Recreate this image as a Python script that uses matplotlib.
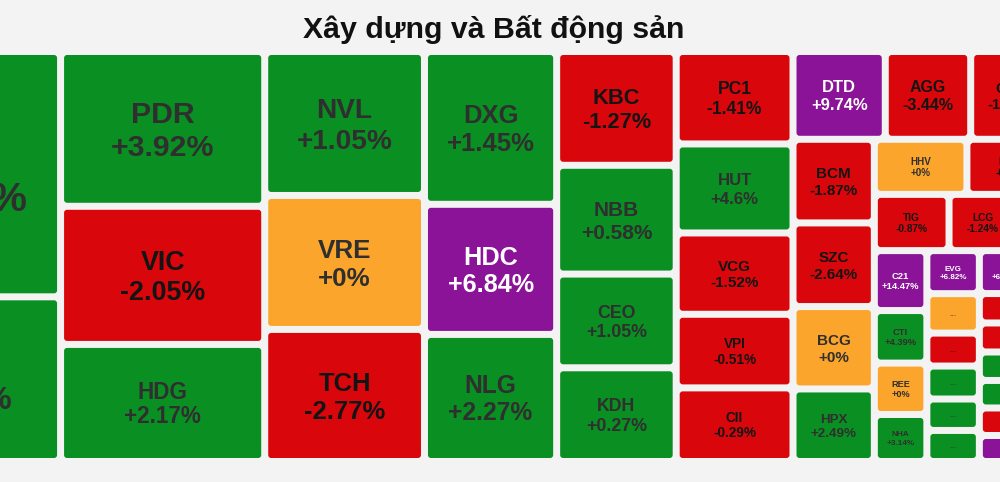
import matplotlib
matplotlib.use("Agg")
import matplotlib.pyplot as plt
from matplotlib.patches import FancyBboxPatch

plt.rcParams['font.family'] = ['Liberation Sans', 'DejaVu Sans']

title = 'Xây dựng và Bất động sản'

# stocks, % change and weight (tile area); tiles cut off at the picture edge are guesses
tickers = ['VHM', 'DIG', 'PDR', 'VIC', 'HDG', 'NVL', 'VRE', 'TCH', 'DXG', 'HDC', 'NLG',
           'KBC', 'NBB', 'CEO', 'KDH', 'PC1', 'HUT', 'VCG', 'VPI', 'CII',
           'DTD', 'AGG', 'CTD', 'BCM', 'SZC', 'BCG', 'HPX', 'HHV', 'HBC', 'TIG', 'LCG', 'FCN',
           'C21', 'CTI', 'REE', 'NHA', 'EVG', 'x1', 'x2', 'x3', 'x4', 'x5',
           'API', 'y2', 'y3', 'y4', 'y5', 'y6', 'y7', 'z1', 'z2', 'z3']
changes = [2.35, 1.93, 3.92, -2.05, 2.17, 1.05, 0.0, -2.77, 1.45, 6.84, 2.27,
           -1.27, 0.58, 1.05, 0.27, -1.41, 4.6, -1.52, -0.51, -0.29,
           9.74, -3.44, -1.35, -1.87, -2.64, 0.0, 2.49, 0.0, -0.9, -0.87, -1.24, -0.5,
           14.47, 4.39, 0.0, 3.14, 6.82, 0.0, -1.0, 1.0, 1.0, 1.0,
           6.95, -1.0, -1.0, 1.0, 1.0, -1.0, 7.0, 1.0, -1.0, 1.0]
weights = [508, 341, 316, 282, 239, 230, 214, 211, 202, 172, 168,
           136, 130, 112, 112, 108, 104, 95, 86, 86,
           81, 75, 70, 68, 68, 67, 59, 51, 46, 42, 38, 19,
           31.5, 27.6, 27, 24.7, 22.6, 20.7, 17.3, 17.3, 16.5, 16.3,
           22.8, 15.6, 15.4, 15.1, 14.6, 14.6, 13.8, 13, 13, 12]

# how the tiles are grouped: 'h' = side by side, 'v' = stacked
groups = ('h', [
    ('v', ['VHM', 'DIG']),
    ('v', ['PDR', 'VIC', 'HDG']),
    ('v', ['NVL', 'VRE', 'TCH']),
    ('v', ['DXG', 'HDC', 'NLG']),
    ('v', ['KBC', 'NBB', 'CEO', 'KDH']),
    ('v', ['PC1', 'HUT', 'VCG', 'VPI', 'CII']),
    ('v', [
        ('h', ['DTD', 'AGG', 'CTD']),
        ('h', [
            ('v', ['BCM', 'SZC', 'BCG', 'HPX']),
            ('v', [
                ('h', ['HHV', 'HBC']),
                ('h', ['TIG', 'LCG', 'FCN']),
                ('h', [
                    ('v', ['C21', 'CTI', 'REE', 'NHA']),
                    ('v', ['EVG', 'x1', 'x2', 'x3', 'x4', 'x5']),
                    ('v', ['API', 'y2', 'y3', 'y4', 'y5', 'y6', 'y7']),
                    ('v', ['z1', 'z2', 'z3']),
                ]),
            ]),
        ]),
    ]),
])

weight_of = dict(zip(tickers, weights))
change_of = dict(zip(tickers, changes))


def total(node):
    if isinstance(node, str):
        return weight_of[node]
    return sum(total(c) for c in node[1])


def layout(node, x0, y0, x1, y1, out):
    if isinstance(node, str):
        out[node] = (x0, y0, x1, y1)
        return
    orient, children = node
    s = total(node)
    pos = x0 if orient == 'h' else y0
    for c in children:
        frac = total(c) / s
        if orient == 'h':
            w = (x1 - x0) * frac
            layout(c, pos, y0, pos + w, y1, out)
        else:
            w = (y1 - y0) * frac
            layout(c, x0, pos, x1, pos + w, out)
        pos += w


def tile_color(c):
    if c >= 6.8:
        return '#8a1398'
    if c > 0:
        return '#0a8f22'
    if c < 0:
        return '#d9070b'
    return '#fca52c'


def text_color(c):
    if c >= 6.8:
        return 'white'
    if c < 0:
        return '#141414'
    return '#2f2f2f'


def fmt(c):
    return f'{c:+.2f}'.rstrip('0').rstrip('.') + '%'


H = 410
W = total(groups) * 100 / H
rects = {}
layout(groups, 0, 0, W, H, rects)

fig = plt.figure(figsize=(10, 4.82), dpi=100, facecolor='#f3f3f3')
ax = fig.add_axes([0, 0, 1, 1])
ax.set_facecolor('#f3f3f3')
ax.set_xlim(146.5, 1146.5)
ax.set_ylim(430.5, -51.5)
ax.axis('off')

gap = 3.5
for t in tickers:
    x0, y0, x1, y1 = rects[t]
    c = change_of[t]
    w = x1 - x0 - 2 * gap
    h = y1 - y0 - 2 * gap
    ax.add_patch(FancyBboxPatch((x0 + gap, y0 + gap), w, h,
                                boxstyle='round,pad=0,rounding_size=3',
                                fc=tile_color(c), ec='none'))
    cx = (x0 + x1) / 2
    cy = (y0 + y1) / 2
    tc = text_color(c)
    if min(w, h) < 34:
        ax.text(cx, cy + 1, '...', ha='center', va='center', fontsize=6,
                fontweight='bold', color=tc, alpha=0.7)
        continue
    f = max(8, 0.205 * min(w, h))
    ax.text(cx, cy - 0.19 * f, t, ha='center', va='baseline',
            fontsize=f * 0.72, fontweight='bold', color=tc)
    ax.text(cx, cy + 0.91 * f, fmt(c), ha='center', va='baseline',
            fontsize=f * 0.72, fontweight='bold', color=tc)

ax.text(640, -13.5, title, ha='center', va='baseline', fontsize=21.8,
        fontweight='bold', color='#111111')

fig.savefig('out.png', dpi=100, facecolor=fig.get_facecolor())
